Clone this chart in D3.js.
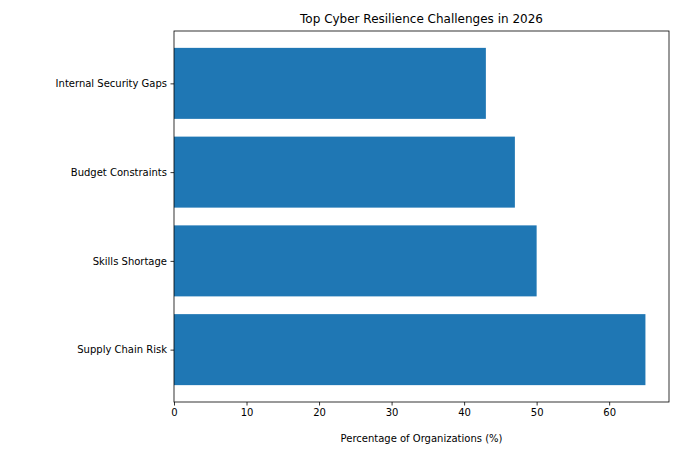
<!DOCTYPE html>
<html><head><meta charset="utf-8">
<script src="https://cdn.jsdelivr.net/npm/d3@7"></script>
<style>body{margin:0;background:#fff}text{font-family:"DejaVu Sans",sans-serif}</style>
</head><body><svg id="c" width="680" height="455"></svg>
<script>
const categories=["Supply Chain Risk","Skills Shortage","Budget Constraints","Internal Security Gaps"];
const values=[65,50,47,43];
const xTicks=[0,10,20,30,40,50,60];
const L=174,R=669,T=31,B=402;
const svg=d3.select("#c");
const x=d3.scaleLinear().domain([0,65*1.05]).range([L,R]);
const y=d3.scaleLinear().domain([-0.59,3.59]).range([B,T]);
svg.selectAll("rect.bar").data(values).enter().append("rect")
 .attr("x",x(0)).attr("y",(d,i)=>y(i+0.4)).attr("width",d=>x(d)-x(0))
 .attr("height",(d,i)=>y(i-0.4)-y(i+0.4)).attr("fill","#1f77b4");
svg.append("rect").attr("x",L).attr("y",T).attr("width",R-L).attr("height",B-T)
 .attr("fill","none").attr("stroke","#000").attr("stroke-width",0.8);
const xa=svg.append("g").attr("transform",`translate(0,${B})`)
 .call(d3.axisBottom(x).tickValues(xTicks).tickSize(3.5).tickPadding(3.5));
const ya=svg.append("g").attr("transform",`translate(${L},0)`)
 .call(d3.axisLeft(y).tickValues([0,1,2,3]).tickFormat(i=>categories[i]).tickSize(3.5).tickPadding(3.5));
[xa,ya].forEach(a=>{a.select(".domain").remove();a.selectAll("text").attr("font-size",10).attr("fill","#000");a.selectAll("line").attr("stroke","#000").attr("stroke-width",0.8);a.attr("font-family","DejaVu Sans");});
svg.append("text").attr("x",(L+R)/2).attr("y",442).attr("text-anchor","middle").attr("font-size",10).text("Percentage of Organizations (%)");
svg.append("text").attr("x",(L+R)/2).attr("y",23).attr("text-anchor","middle").attr("font-size",12).text("Top Cyber Resilience Challenges in 2026");
</script></body></html>
